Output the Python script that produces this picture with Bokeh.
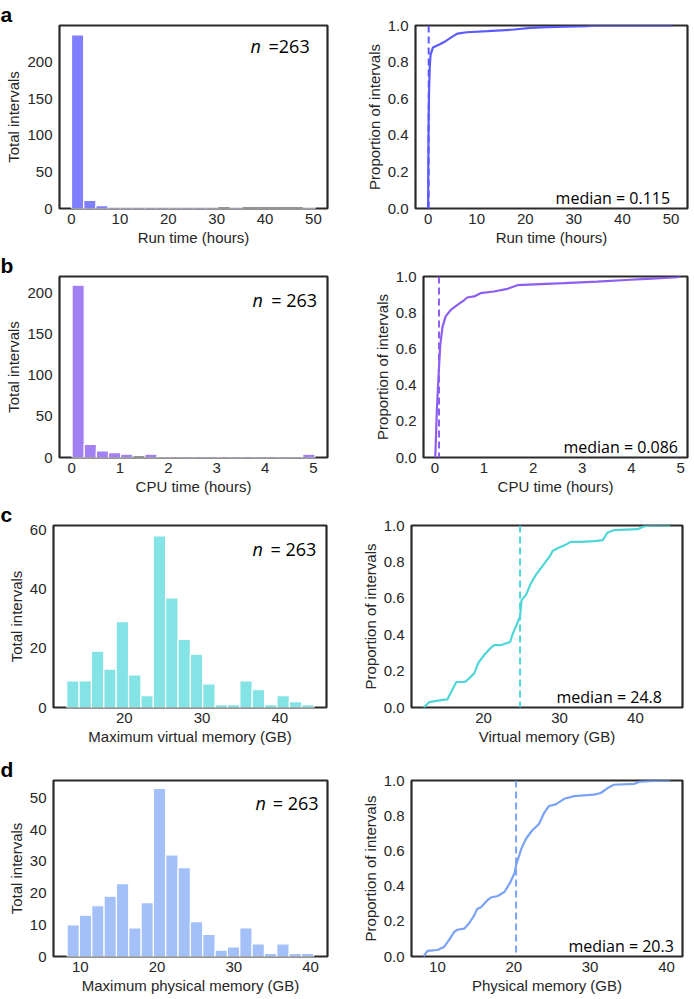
from bokeh.plotting import figure
from bokeh.layouts import column, row
from bokeh.models import Label, FixedTicker, Range1d, Span, NumeralTickFormatter
from bokeh.embed import file_html
from bokeh.resources import INLINE

# ---------------- data ----------------
# histograms: first bin edge, bin width, counts per bin
run_bin_start = 0.0
run_bin_width = 2.52
run_counts = [237, 11, 4, 1, 1, 1, 1, 1, 1, 1, 1, 1, 0, 1, 0, 0, 0, 0, 0, 1]

cpu_bin_start = 0.01
cpu_bin_width = 0.251
cpu_counts = [209, 16, 8, 6, 4, 0, 4, 1, 1, 1, 1, 1, 1, 1, 1, 1, 1, 1, 1, 4]

vmem_bin_start = 12.6
vmem_bin_width = 1.59
vmem_counts = [9, 9, 19, 13, 29, 11, 4, 58, 37, 23, 18, 8, 1, 1, 9, 6, 1, 4, 2, 1]

pmem_bin_start = 8.27
pmem_bin_width = 1.607
pmem_counts = [10, 13, 16, 19, 23, 9, 17, 53, 32, 28, 11, 7, 2, 3, 9, 4, 1, 4, 1, 1]

n_total = 263

# cumulative distributions (x, proportion)
run_ecdf_x = [0.0, 0.02, 0.05, 0.08, 0.115, 0.2, 0.35, 0.5, 1.0, 2.2, 3.2, 4.6, 6.0, 8.0,
              12.2, 17.7, 21.1, 24.6, 32.8, 34.2, 50.4]
run_ecdf_y = [0.0, 0.15, 0.3, 0.42, 0.5, 0.65, 0.78, 0.84, 0.88, 0.895, 0.908, 0.932, 0.956,
              0.963, 0.969, 0.978, 0.987, 0.991, 0.996, 1.0, 1.0]
run_median = 0.115

cpu_ecdf_x = [0.01, 0.04, 0.07, 0.086, 0.11, 0.156, 0.22, 0.325, 0.46, 0.6, 0.66, 0.8, 0.93,
              1.2, 1.48, 1.68, 2.02, 2.63, 3.3, 3.98, 4.32, 4.93, 5.0]
cpu_ecdf_y = [0.0, 0.25, 0.42, 0.5, 0.62, 0.72, 0.78, 0.815, 0.843, 0.87, 0.884, 0.89, 0.908,
              0.917, 0.932, 0.952, 0.957, 0.963, 0.972, 0.982, 0.987, 0.996, 1.0]
cpu_median = 0.086

vmem_ecdf_x = [12.1, 12.85, 14.8, 15.2, 16.4, 17.5, 18.1, 18.8, 19.3, 20.1, 21.0, 21.4, 22.3,
               23.5, 23.8, 24.3, 24.8, 25.0, 25.6, 26.2, 26.9, 27.8, 28.7, 29.1, 29.8, 30.6,
               31.5, 32.8, 34.6, 35.7, 36.3, 37.2, 40.3, 41.1, 42.0, 44.6]
vmem_ecdf_y = [0.0, 0.03, 0.043, 0.043, 0.14, 0.14, 0.16, 0.19, 0.245, 0.29, 0.33, 0.343,
               0.343, 0.36, 0.40, 0.45, 0.5, 0.59, 0.62, 0.68, 0.73, 0.78, 0.83, 0.86, 0.876,
               0.89, 0.91, 0.91, 0.914, 0.92, 0.96, 0.975, 0.98, 0.995, 1.0, 1.0]
vmem_median = 24.8

pmem_ecdf_x = [8.17, 8.7, 10.0, 10.9, 11.5, 12.2, 12.6, 13.5, 14.1, 14.8, 15.2, 15.7, 16.55,
               17.0, 17.9, 18.8, 19.5, 20.1, 20.3, 21.0, 21.6, 22.4, 23.3, 24.0, 24.6, 25.5,
               26.6, 27.9, 30.5, 31.4, 32.3, 33.1, 35.8, 36.6, 38.4, 40.5]
pmem_ecdf_y = [0.0, 0.032, 0.037, 0.056, 0.093, 0.14, 0.152, 0.158, 0.186, 0.232, 0.27, 0.28,
               0.32, 0.335, 0.344, 0.368, 0.418, 0.474, 0.52, 0.613, 0.669, 0.716, 0.753, 0.818,
               0.855, 0.864, 0.896, 0.911, 0.92, 0.929, 0.957, 0.976, 0.981, 0.994, 0.998, 1.0]
pmem_median = 20.3

# ---------------- styling ----------------
TXT = "#262626"
AX_FONT = "Liberation Sans"
ANN_FONT = "Open Sans"

LEFT_W = 347
RIGHT_W = 345


def base_fig(width, height, xr, yr, left, right, top, bottom, xticks, yticks, xlabel, ylabel):
    p = figure(width=width, height=height, x_range=Range1d(*xr), y_range=Range1d(*yr),
               output_backend="svg", toolbar_location=None,
               min_border_left=left, min_border_right=right,
               min_border_top=top, min_border_bottom=bottom)
    p.grid.visible = False
    p.outline_line_color = "#2a2a2a"
    p.outline_line_width = 2.2
    p.background_fill_color = "white"
    p.border_fill_color = "white"
    for ax in (p.xaxis[0], p.yaxis[0]):
        ax.axis_line_color = None
        ax.major_tick_line_color = None
        ax.minor_tick_line_color = None
        ax.major_tick_out = 0
        ax.major_tick_in = 0
        ax.minor_tick_out = 0
        ax.minor_tick_in = 0
        ax.major_label_text_font = AX_FONT
        ax.major_label_text_font_size = "15px"
        ax.major_label_text_color = TXT
        ax.axis_label_text_font = AX_FONT
        ax.axis_label_text_font_size = "15px"
        ax.axis_label_text_font_style = "normal"
        ax.axis_label_text_color = TXT
    p.xaxis[0].ticker = FixedTicker(ticks=xticks)
    p.yaxis[0].ticker = FixedTicker(ticks=yticks)
    p.xaxis[0].major_label_standoff = 5
    p.xaxis[0].axis_label_standoff = 2
    p.yaxis[0].major_label_standoff = 7
    p.yaxis[0].axis_label_standoff = 2
    p.xaxis[0].axis_label = xlabel
    p.yaxis[0].axis_label = ylabel
    return p


def frac_x(xr, f):
    return xr[0] + f * (xr[1] - xr[0])


def hist_panel(height, xr, ymax, left, right, top, bottom, xticks, yticks, xlabel,
               start, width, counts, color, n_lbl, n_pos, letter):
    p = base_fig(LEFT_W, height, xr, (0, ymax), left, right, top, bottom, xticks, yticks,
                 xlabel, "Total intervals")
    # panel letter as the figure title, pushed to the left edge of the canvas
    p.title.text = letter
    p.title.align = "left"
    p.title.offset = -left
    p.title.standoff = 0
    p.title.text_font = AX_FONT
    p.title.text_font_size = "21px"
    p.title.text_font_style = "bold"
    p.title.text_color = "black"
    p.title.text_line_height = 0.8
    lefts = [start + i * width for i in range(len(counts))]
    rights = [start + (i + 1) * width for i in range(len(counts))]
    p.quad(left=lefts, right=rights, bottom=0, top=counts, fill_color=color,
           line_color="white", line_width=1.2)
    fx_n, fx_eq, dy = n_pos
    p.add_layout(Label(x=frac_x(xr, fx_n), y=ymax, y_offset=-dy, text="n",
                       text_font=ANN_FONT, text_font_style="italic", text_font_size="18px",
                       text_color="black", text_align="left", text_baseline="alphabetic"))
    p.add_layout(Label(x=frac_x(xr, fx_eq), y=ymax, y_offset=-dy, text=n_lbl,
                       text_font=ANN_FONT, text_font_size="18px",
                       text_color="black", text_align="left", text_baseline="alphabetic"))
    return p


def ecdf_panel(height, xr, left, right, top, bottom, xticks, xlabel, xs, ys, med, color,
               med_txt, med_fx):
    p = base_fig(RIGHT_W, height, xr, (0, 1), left, right, top, bottom, xticks,
                 [0, 0.2, 0.4, 0.6, 0.8, 1.0], xlabel, "Proportion of intervals")
    p.yaxis[0].formatter = NumeralTickFormatter(format="0.0")
    p.line(xs, ys, line_color=color, line_width=2.2)
    p.add_layout(Span(location=med, dimension="height", line_color=color, line_width=2,
                      line_dash="7 4"))
    p.add_layout(Label(x=frac_x(xr, med_fx), y=0, y_offset=11, text=med_txt,
                       text_font=ANN_FONT, text_font_size="16px", text_color="black",
                       text_align="left", text_baseline="alphabetic"))
    return p


ha = hist_panel(250, (-2.48, 52.9), 250, 59, 20, 23, 41, [0, 10, 20, 30, 40, 50],
                [0, 50, 100, 150, 200], "Run time (hours)",
                run_bin_start, run_bin_width, run_counts, "#8080ff",
                "=" + str(n_total), (0.713, 0.78, 20), "a")
ea = ecdf_panel(250, (-2.6, 53.4), 68, 5, 25, 42, [0, 10, 20, 30, 40, 50], "Run time (hours)",
                run_ecdf_x, run_ecdf_y, run_median, "#5a5aff", "median = 0.115", 0.515)

hb = hist_panel(250, (-0.25, 5.29), 219.5, 59, 20, 22, 43, [0, 1, 2, 3, 4, 5],
                [0, 50, 100, 150, 200], "CPU time (hours)",
                cpu_bin_start, cpu_bin_width, cpu_counts, "#a27ff2",
                "= " + str(n_total), (0.72, 0.79, 23), "b")
eb = ecdf_panel(250, (-0.23, 5.14), 76, 5, 26, 42, [0, 1, 2, 3, 4, 5], "CPU time (hours)",
                cpu_ecdf_x, cpu_ecdf_y, cpu_median, "#8c5ef2", "median = 0.086", 0.53)

hc = hist_panel(250, (10.9, 46.0), 61.5, 53, 21, 24, 42, [20, 30, 40], [0, 20, 40, 60],
                "Maximum virtual memory (GB)",
                vmem_bin_start, vmem_bin_width, vmem_counts, "#84e3e5",
                "= " + str(n_total), (0.729, 0.795, 23), "c")
ec = ecdf_panel(250, (10.5, 46.2), 64, 10, 25, 43, [20, 30, 40], "Virtual memory (GB)",
                vmem_ecdf_x, vmem_ecdf_y, vmem_median, "#4fd6d8", "median = 24.8", 0.535)

hd = hist_panel(247, (6.5, 42.2), 55.5, 53, 20, 22, 41, [10, 20, 30, 40],
                [0, 10, 20, 30, 40, 50], "Maximum physical memory (GB)",
                pmem_bin_start, pmem_bin_width, pmem_counts, "#a4c0f8",
                "= " + str(n_total), (0.737, 0.80, 22), "d")
ed = ecdf_panel(247, (6.6, 42.1), 64, 10, 30, 37, [10, 20, 30, 40], "Physical memory (GB)",
                pmem_ecdf_x, pmem_ecdf_y, pmem_median, "#7aa3f5", "median = 20.3", 0.579)

layout = column(row(ha, ea), row(hb, eb), row(hc, ec), row(hd, ed))

with open("out.html", "w") as f:
    f.write(file_html(layout, INLINE))
